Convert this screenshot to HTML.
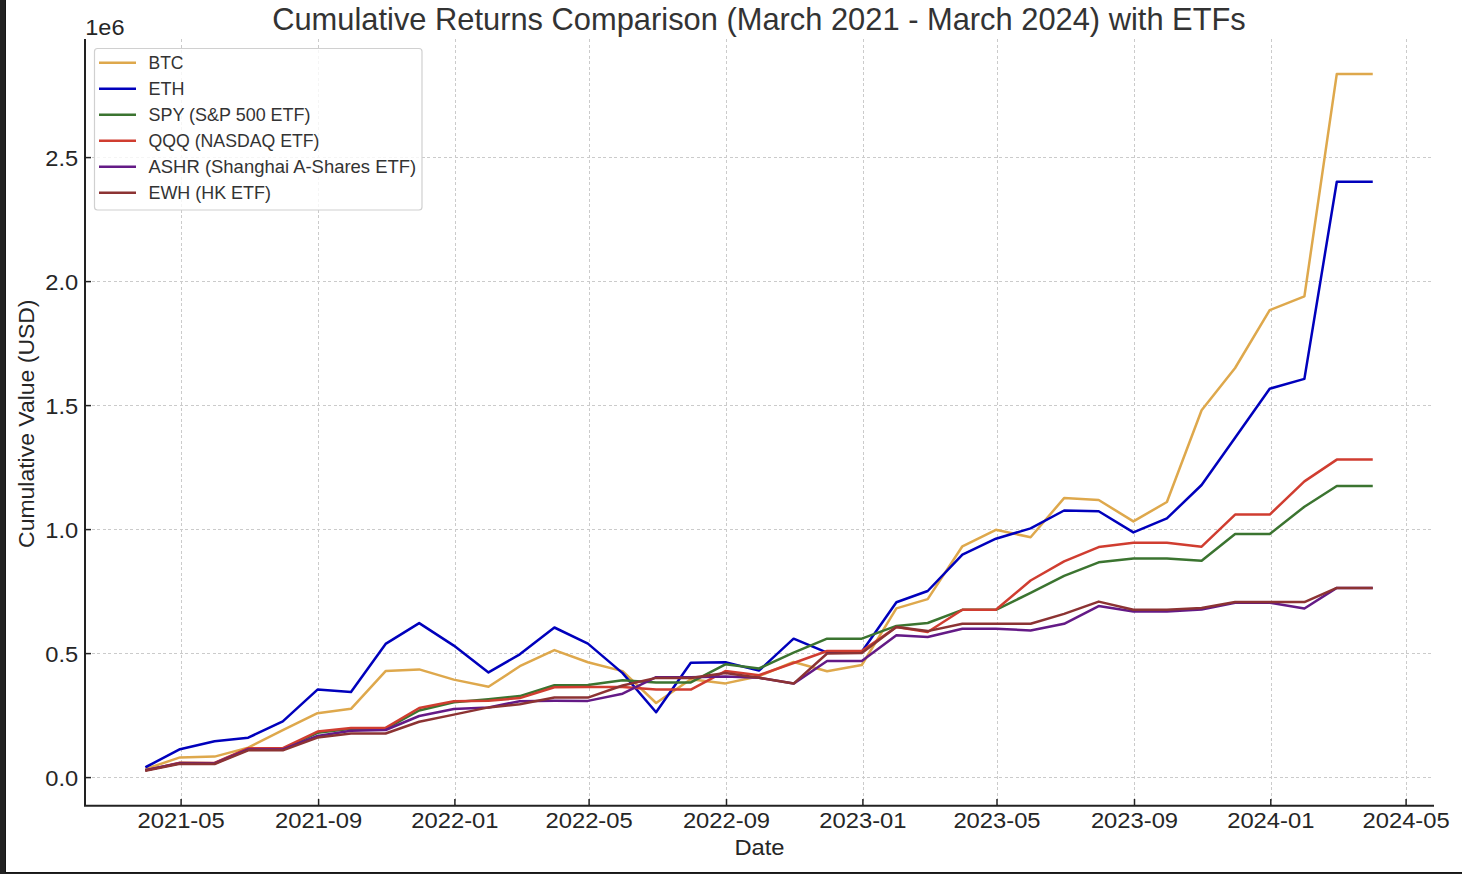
<!DOCTYPE html>
<html><head><meta charset="utf-8"><title>Cumulative Returns Comparison</title>
<style>html,body{margin:0;padding:0;background:#fff;width:1462px;height:874px;overflow:hidden}</style>
</head><body>
<svg width="1462" height="874" viewBox="0 0 1462 874" style="display:block"><rect width="1462" height="874" fill="#fff"/><g stroke="#cbcbcb" stroke-width="1" stroke-dasharray="3.4 2.1" shape-rendering="crispEdges"><line x1="86" y1="777.5" x2="1433" y2="777.5"/><line x1="86" y1="653.5" x2="1433" y2="653.5"/><line x1="86" y1="529.5" x2="1433" y2="529.5"/><line x1="86" y1="405.5" x2="1433" y2="405.5"/><line x1="86" y1="281.5" x2="1433" y2="281.5"/><line x1="86" y1="157.5" x2="1433" y2="157.5"/><line x1="181.5" y1="39" x2="181.5" y2="805"/><line x1="318.5" y1="39" x2="318.5" y2="805"/><line x1="455.5" y1="39" x2="455.5" y2="805"/><line x1="589.5" y1="39" x2="589.5" y2="805"/><line x1="726.5" y1="39" x2="726.5" y2="805"/><line x1="863.5" y1="39" x2="863.5" y2="805"/><line x1="997.5" y1="39" x2="997.5" y2="805"/><line x1="1134.5" y1="39" x2="1134.5" y2="805"/><line x1="1271.5" y1="39" x2="1271.5" y2="805"/><line x1="1406.5" y1="39" x2="1406.5" y2="805"/></g><polyline points="146.5,768.7 180.0,757.4 214.6,756.6 248.2,747.6 282.8,730.2 317.5,713.2 351.0,708.8 385.6,671.1 419.2,669.4 453.8,679.6 488.5,686.8 519.8,666.2 554.4,650.1 587.9,662.2 622.6,671.1 656.1,703.0 690.8,679.3 725.4,683.4 759.0,676.2 793.6,662.0 827.1,671.2 861.8,665.0 896.4,608.4 927.7,599.1 962.4,546.3 995.9,529.8 1030.6,537.3 1064.1,498.1 1098.7,500.0 1133.4,521.4 1166.9,502.0 1201.6,410.2 1235.1,368.0 1269.7,310.2 1304.4,296.4 1336.8,73.9 1371.5,73.9" fill="none" stroke="#dea84c" stroke-width="2.5" stroke-linejoin="round" stroke-linecap="square"/><polyline points="146.5,766.7 180.0,749.2 214.6,741.2 248.2,737.7 282.8,721.3 317.5,689.6 351.0,692.1 385.6,643.9 419.2,623.1 453.8,645.6 488.5,672.4 519.8,654.3 554.4,627.5 587.9,643.6 622.6,673.1 656.1,712.3 690.8,662.8 725.4,662.2 759.0,670.6 793.6,638.7 827.1,652.7 861.8,651.7 896.4,602.2 927.7,591.0 962.4,554.6 995.9,538.7 1030.6,528.4 1064.1,510.5 1098.7,511.2 1133.4,532.4 1166.9,518.4 1201.6,485.0 1235.1,437.7 1269.7,388.7 1304.4,378.9 1336.8,181.7 1371.5,181.7" fill="none" stroke="#0000bc" stroke-width="2.5" stroke-linejoin="round" stroke-linecap="square"/><polyline points="146.5,770.1 180.0,763.0 214.6,763.2 248.2,748.8 282.8,748.8 317.5,732.8 351.0,728.7 385.6,729.0 419.2,710.5 453.8,702.3 488.5,699.2 519.8,696.1 554.4,685.2 587.9,685.0 622.6,680.3 656.1,682.4 690.8,682.4 725.4,664.3 759.0,668.5 793.6,652.7 827.1,638.7 861.8,638.7 896.4,625.9 927.7,623.0 962.4,609.8 995.9,609.8 1030.6,592.9 1064.1,575.8 1098.7,562.3 1133.4,558.6 1166.9,558.6 1201.6,560.8 1235.1,534.1 1269.7,534.1 1304.4,506.7 1336.8,486.0 1371.5,486.0" fill="none" stroke="#3b7430" stroke-width="2.5" stroke-linejoin="round" stroke-linecap="square"/><polyline points="146.5,770.1 180.0,762.7 214.6,762.9 248.2,748.2 282.8,748.2 317.5,731.6 351.0,728.0 385.6,727.9 419.2,708.0 453.8,701.2 488.5,700.8 519.8,698.1 554.4,687.2 587.9,686.9 622.6,686.9 656.1,689.6 690.8,689.6 725.4,671.1 759.0,675.2 793.6,663.0 827.1,651.0 861.8,651.0 896.4,627.0 927.7,632.0 962.4,609.8 995.9,609.8 1030.6,580.5 1064.1,561.4 1098.7,547.1 1133.4,542.8 1166.9,542.8 1201.6,546.7 1235.1,514.6 1269.7,514.6 1304.4,481.4 1336.8,459.6 1371.5,459.6" fill="none" stroke="#d03d30" stroke-width="2.5" stroke-linejoin="round" stroke-linecap="square"/><polyline points="146.5,770.1 180.0,763.3 214.6,763.5 248.2,749.5 282.8,749.5 317.5,735.9 351.0,730.8 385.6,730.0 419.2,716.0 453.8,709.0 488.5,707.4 519.8,701.2 554.4,700.8 587.9,700.9 622.6,693.7 656.1,677.2 690.8,677.2 725.4,676.6 759.0,677.8 793.6,683.6 827.1,661.0 861.8,661.0 896.4,635.2 927.7,637.0 962.4,628.7 995.9,628.7 1030.6,630.4 1064.1,623.8 1098.7,606.1 1133.4,611.5 1166.9,611.5 1201.6,609.4 1235.1,602.7 1269.7,602.7 1304.4,608.5 1336.8,587.9 1371.5,587.9" fill="none" stroke="#641a86" stroke-width="2.5" stroke-linejoin="round" stroke-linecap="square"/><polyline points="146.5,770.6 180.0,763.8 214.6,764.0 248.2,750.3 282.8,750.3 317.5,737.6 351.0,733.5 385.6,733.5 419.2,721.7 453.8,714.6 488.5,707.4 519.8,704.3 554.4,697.5 587.9,697.6 622.6,685.5 656.1,677.9 690.8,677.9 725.4,673.1 759.0,677.8 793.6,683.6 827.1,653.5 861.8,653.0 896.4,627.0 927.7,631.1 962.4,623.8 995.9,623.8 1030.6,623.8 1064.1,613.9 1098.7,601.6 1133.4,609.8 1166.9,609.8 1201.6,608.1 1235.1,602.1 1269.7,602.1 1304.4,602.1 1336.8,587.9 1371.5,587.9" fill="none" stroke="#8c3333" stroke-width="2.5" stroke-linejoin="round" stroke-linecap="square"/><g stroke="#222" stroke-width="2"><line x1="85" y1="39" x2="85" y2="806"/><line x1="84" y1="805.8" x2="1434" y2="805.8"/></g><g stroke="#222" stroke-width="1.5"><line x1="85" y1="777.6" x2="91" y2="777.6"/><line x1="85" y1="653.6" x2="91" y2="653.6"/><line x1="85" y1="529.6" x2="91" y2="529.6"/><line x1="85" y1="405.6" x2="91" y2="405.6"/><line x1="85" y1="281.6" x2="91" y2="281.6"/><line x1="85" y1="157.6" x2="91" y2="157.6"/><line x1="181.1" y1="805" x2="181.1" y2="799"/><line x1="318.6" y1="805" x2="318.6" y2="799"/><line x1="454.9" y1="805" x2="454.9" y2="799"/><line x1="589.1" y1="805" x2="589.1" y2="799"/><line x1="726.5" y1="805" x2="726.5" y2="799"/><line x1="862.9" y1="805" x2="862.9" y2="799"/><line x1="997.0" y1="805" x2="997.0" y2="799"/><line x1="1134.5" y1="805" x2="1134.5" y2="799"/><line x1="1270.8" y1="805" x2="1270.8" y2="799"/><line x1="1406.1" y1="805" x2="1406.1" y2="799"/></g><g font-family='"Liberation Sans", sans-serif' font-size="21.5" fill="#262626"><text x="78.2" y="785.6" text-anchor="end" textLength="32.9" lengthAdjust="spacingAndGlyphs">0.0</text><text x="78.2" y="661.6" text-anchor="end" textLength="32.9" lengthAdjust="spacingAndGlyphs">0.5</text><text x="78.2" y="537.6" text-anchor="end" textLength="32.9" lengthAdjust="spacingAndGlyphs">1.0</text><text x="78.2" y="413.6" text-anchor="end" textLength="32.9" lengthAdjust="spacingAndGlyphs">1.5</text><text x="78.2" y="289.6" text-anchor="end" textLength="32.9" lengthAdjust="spacingAndGlyphs">2.0</text><text x="78.2" y="165.6" text-anchor="end" textLength="32.9" lengthAdjust="spacingAndGlyphs">2.5</text><text x="181.1" y="828" text-anchor="middle" textLength="87.2" lengthAdjust="spacingAndGlyphs">2021-05</text><text x="318.6" y="828" text-anchor="middle" textLength="87.2" lengthAdjust="spacingAndGlyphs">2021-09</text><text x="454.9" y="828" text-anchor="middle" textLength="87.2" lengthAdjust="spacingAndGlyphs">2022-01</text><text x="589.1" y="828" text-anchor="middle" textLength="87.2" lengthAdjust="spacingAndGlyphs">2022-05</text><text x="726.5" y="828" text-anchor="middle" textLength="87.2" lengthAdjust="spacingAndGlyphs">2022-09</text><text x="862.9" y="828" text-anchor="middle" textLength="87.2" lengthAdjust="spacingAndGlyphs">2023-01</text><text x="997.0" y="828" text-anchor="middle" textLength="87.2" lengthAdjust="spacingAndGlyphs">2023-05</text><text x="1134.5" y="828" text-anchor="middle" textLength="87.2" lengthAdjust="spacingAndGlyphs">2023-09</text><text x="1270.8" y="828" text-anchor="middle" textLength="87.2" lengthAdjust="spacingAndGlyphs">2024-01</text><text x="1406.1" y="828" text-anchor="middle" textLength="87.2" lengthAdjust="spacingAndGlyphs">2024-05</text></g><text x="85.3" y="34.6" font-family='"Liberation Sans", sans-serif' font-size="22.3" fill="#262626" textLength="39.2" lengthAdjust="spacingAndGlyphs">1e6</text><text x="759.5" y="855" text-anchor="middle" font-family='"Liberation Sans", sans-serif' font-size="21.5" fill="#262626" textLength="50.2" lengthAdjust="spacingAndGlyphs">Date</text><text transform="translate(34,423.7) rotate(-90)" x="0" y="0" text-anchor="middle" font-family='"Liberation Sans", sans-serif' font-size="22" fill="#262626" textLength="248.4" lengthAdjust="spacingAndGlyphs">Cumulative Value (USD)</text><text x="759" y="29.6" text-anchor="middle" font-family='"Liberation Sans", sans-serif' font-size="30.9" fill="#333333" textLength="973.6" lengthAdjust="spacingAndGlyphs">Cumulative Returns Comparison (March 2021 - March 2024) with ETFs</text><rect x="94.5" y="48.5" width="327.5" height="161.5" rx="3" ry="3" fill="#fff" fill-opacity="0.8" stroke="#d0d0d0" stroke-width="1.2"/><line x1="99" y1="62.7" x2="136" y2="62.7" stroke="#dea84c" stroke-width="2.5"/><text x="148.5" y="69.2" font-family='"Liberation Sans", sans-serif' font-size="18.6" fill="#333333" textLength="35" lengthAdjust="spacingAndGlyphs">BTC</text><line x1="99" y1="88.7" x2="136" y2="88.7" stroke="#0000bc" stroke-width="2.5"/><text x="148.5" y="95.2" font-family='"Liberation Sans", sans-serif' font-size="18.6" fill="#333333" textLength="36" lengthAdjust="spacingAndGlyphs">ETH</text><line x1="99" y1="114.7" x2="136" y2="114.7" stroke="#3b7430" stroke-width="2.5"/><text x="148.5" y="121.2" font-family='"Liberation Sans", sans-serif' font-size="18.6" fill="#333333" textLength="162" lengthAdjust="spacingAndGlyphs">SPY (S&amp;P 500 ETF)</text><line x1="99" y1="140.7" x2="136" y2="140.7" stroke="#d03d30" stroke-width="2.5"/><text x="148.5" y="147.2" font-family='"Liberation Sans", sans-serif' font-size="18.6" fill="#333333" textLength="171" lengthAdjust="spacingAndGlyphs">QQQ (NASDAQ ETF)</text><line x1="99" y1="166.7" x2="136" y2="166.7" stroke="#641a86" stroke-width="2.5"/><text x="148.5" y="173.2" font-family='"Liberation Sans", sans-serif' font-size="18.6" fill="#333333" textLength="267.7" lengthAdjust="spacingAndGlyphs">ASHR (Shanghai A-Shares ETF)</text><line x1="99" y1="192.7" x2="136" y2="192.7" stroke="#8c3333" stroke-width="2.5"/><text x="148.5" y="199.2" font-family='"Liberation Sans", sans-serif' font-size="18.6" fill="#333333" textLength="122.4" lengthAdjust="spacingAndGlyphs">EWH (HK ETF)</text><rect x="0" y="0" width="6" height="874" fill="#222"/><rect x="5" y="0" width="1" height="873" fill="#161616"/><rect x="0" y="872" width="1462" height="2" fill="#222"/><rect x="5" y="872" width="1457" height="1" fill="#161616"/></svg>
</body></html>
